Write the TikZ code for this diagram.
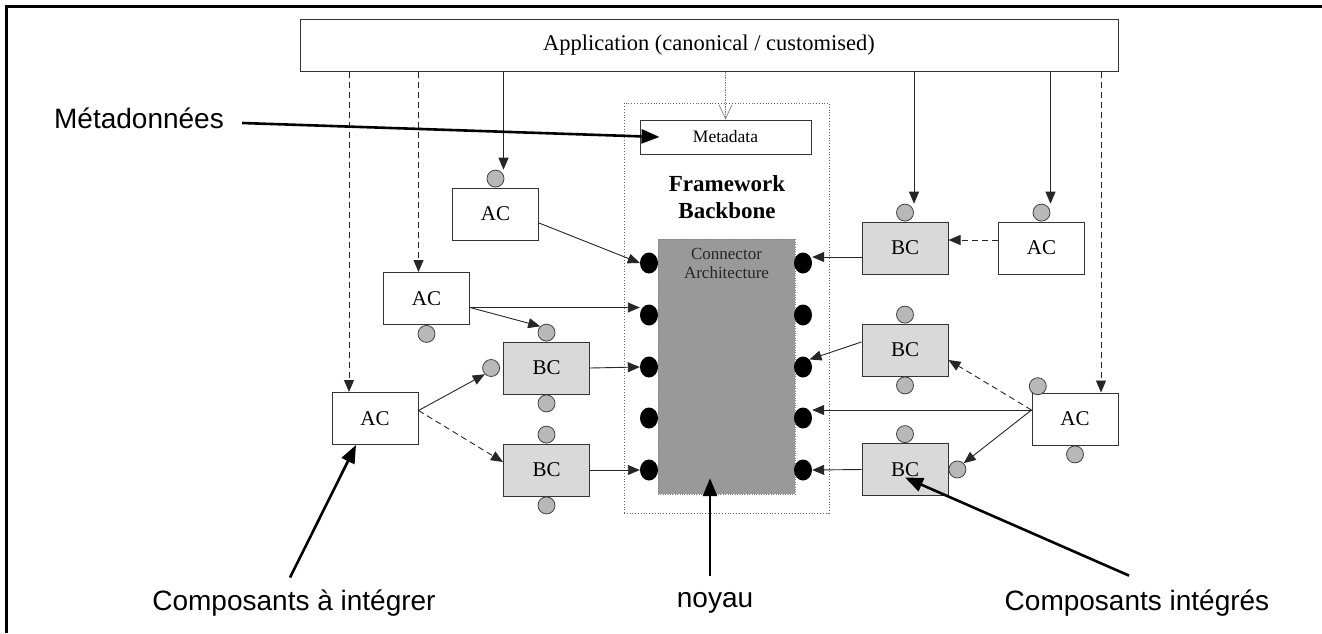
\documentclass[tikz,border=0pt]{standalone}
\usepackage{fontspec}
\setmainfont{Liberation Serif}
\newfontfamily\labelfont{Liberation Sans}
\usetikzlibrary{arrows.meta,positioning,shapes.geometric}

\tikzset{
	acbox/.style={draw=black!80, line width=1pt, fill=white, minimum width=86pt, minimum height=52pt, inner sep=0pt, font=\fontsize{21}{23}\selectfont},
	bcbox/.style={acbox, fill=black!15},
	port/.style={circle, draw=black!75, line width=0.8pt, fill=black!28, minimum size=17pt, inner sep=0pt},
	plug/.style={ellipse, fill=black, minimum width=18pt, minimum height=21pt, inner sep=0pt},
	link/.style={-{Triangle[length=12pt,width=10pt]}, line width=0.9pt, draw=black!85},
	optional/.style={link, dash pattern=on 6pt off 4pt},
	callout/.style={-{Triangle[length=18pt,width=14pt]}, line width=2.6pt},
	outlbl/.style={font=\labelfont\fontsize{28}{31}\selectfont, inner sep=0pt}
}

\begin{document}
\begin{tikzpicture}[x=1pt,y=-1pt]
		%%%%% START %%%%%
		\useasboundingbox (0,0) rectangle (1322,633);
		\draw[line width=3pt] (1322,6) -- (6,6) -- (6,633);
		
		\node[draw=black!80, line width=1pt, minimum width=818pt, minimum height=52pt, inner sep=0pt, font=\fontsize{22.5}{25}\selectfont] (app) at (709,45) {Application (canonical / customised)};
		
		\node[draw=black!60, dotted, line width=0.8pt, minimum width=205pt, minimum height=410pt, inner sep=0pt] (fw) at (726.5,308) {};
		\node[draw=black!80, line width=1pt, minimum width=171pt, minimum height=34pt, inner sep=0pt, font=\fontsize{17.5}{19}\selectfont] (meta) at (725.5,137) {Metadata};
		\node[font=\bfseries\fontsize{23}{27}\selectfont, align=center] (fwlbl) at (727,197) {Framework\\Backbone};
		\node[draw=black!50, dotted, fill=black!40, minimum width=137pt, minimum height=255pt, inner sep=0pt] (conn) at (726.5,366.5) {};
		\node[font=\fontsize{17}{19}\selectfont, align=center, text=black!85, below=6pt of conn.north] (connlbl) {Connector\\Architecture};
		
		\foreach \i/\y in {1/263,2/315,3/367,4/418,5/470} {
			\node[plug] (L\i) at (649,\y) {};
			\node[plug] (R\i) at (803,\y) {};
		}
		
		\node[acbox] (acA) at (495.5,214) {AC};
		\node[acbox] (acB) at (426.5,298.5) {AC};
		\node[acbox] (acC) at (375,418.5) {AC};
		\node[acbox] (acD) at (1041.5,248) {AC};
		\node[acbox] (acE) at (1075,419) {AC};
		\node[bcbox] (bcA) at (546.5,368) {BC};
		\node[bcbox] (bcB) at (546.5,470) {BC};
		\node[bcbox] (bcC) at (905,248) {BC};
		\node[bcbox] (bcD) at (905,350) {BC};
		\node[bcbox] (bcE) at (905,469.5) {BC};
		
		\node[port, above=0pt of acA] (pA) {};
		\node[port, below=0pt of acB] (pB) {};
		\node[port, above=0pt of acD] (pD) {};
		\node[port, above right=0pt and 0pt of acE.north west] (pEt) {};
		\node[port, below=0pt of acE] (pEb) {};
		\node[port, above=0pt of bcA] (pAt) {};
		\node[port, left=3pt of bcA] (pAl) {};
		\node[port, below=0pt of bcA] (pAb) {};
		\node[port, above=0pt of bcB] (pBt) {};
		\node[port, below=0pt of bcB] (pBb) {};
		\node[port, above=0pt of bcC] (pC) {};
		\node[port, above=0pt of bcD] (pDt) {};
		\node[port, below=0pt of bcD] (pDb) {};
		\node[port, above=0pt of bcE] (pEt2) {};
		\node[port, right=0pt of bcE] (pEr) {};
		
		\draw[link] ([xshift=8pt]pA.north |- app.south) -- ([xshift=8pt]pA.north);
		\draw[link] ([xshift=9pt]pC.north |- app.south) -- ([xshift=9pt]pC.north);
		\draw[link] ([xshift=9pt]pD.north |- app.south) -- ([xshift=9pt]pD.north);
		\draw[optional] ([xshift=-8pt]acB.north |- app.south) -- ([xshift=-8pt]acB.north);
		\draw[optional] ([xshift=-26pt]acC.north |- app.south) -- ([xshift=-26pt]acC.north);
		\draw[optional] ([xshift=26pt]acE.north |- app.south) -- ([xshift=26pt]acE.north);
		\draw[densely dotted, black!50, line width=0.7pt, -{Straight Barb[length=14pt,width=13pt]}] (app.south -| meta.north) -- (meta.north);
		
		\draw[link] ([yshift=-9pt]acA.east) -- (L1.west);
		\draw[link] ([yshift=-9pt]acB.east) -- ([yshift=-9pt]acB.east -| L2.west);
		\draw[link] ([yshift=-9pt]acB.east) -- (pAt.north west);
		\draw[link] (bcA.east) -- (L3.west);
		\draw[link] (bcB.east) -- (L5.west);
		\draw[link] ([yshift=8pt]acC.east) -- (pAl.south west);
		\draw[optional] ([yshift=8pt]acC.east) -- ([yshift=8pt]bcB.west);
		
		\draw[link] ([yshift=-9pt]bcC.west) -- ([yshift=-9pt]bcC.west -| R1.east);
		\draw[optional] ([yshift=8pt]acD.west) -- ([yshift=8pt]bcC.east);
		\draw[link] ([yshift=8pt]bcD.west) -- (R3.north east);
		\draw[optional] ([yshift=9pt]acE.west) -- ([yshift=-10pt]bcD.east);
		\draw[link] ([yshift=9pt]acE.west) -- ([yshift=9pt]acE.west -| R4.east);
		\draw[link] ([yshift=9pt]acE.west) -- (pEr.north east);
		\draw[link] (bcE.west) -- (R5.east);
		
		\node[outlbl] (lblMeta) at (139,118) {Métadonnées};
		\node[outlbl] (lblIn) at (294,603) {Composants à intégrer};
		\node[outlbl] (lblCore) at (715,603) {noyau};
		\node[outlbl] (lblOut) at (1137,603) {Composants intégrés};
		
		\draw[callout] ([xshift=18pt,yshift=-5pt]lblMeta.east) -- ([xshift=20pt]meta.west);
		\draw[callout] ([xshift=-4pt,yshift=12pt]lblIn.north) -- ([xshift=-19pt]acC.south);
		\draw[callout] ([xshift=-5pt,yshift=16pt]lblCore.north) -- ([xshift=-5pt,yshift=16pt]lblCore.north |- conn.south);
		\draw[callout] ([xshift=-8pt,yshift=14pt]lblOut.north) -- ([yshift=-8pt]bcE.center);
		%%%%% END %%%%%
\end{tikzpicture}
\end{document}
